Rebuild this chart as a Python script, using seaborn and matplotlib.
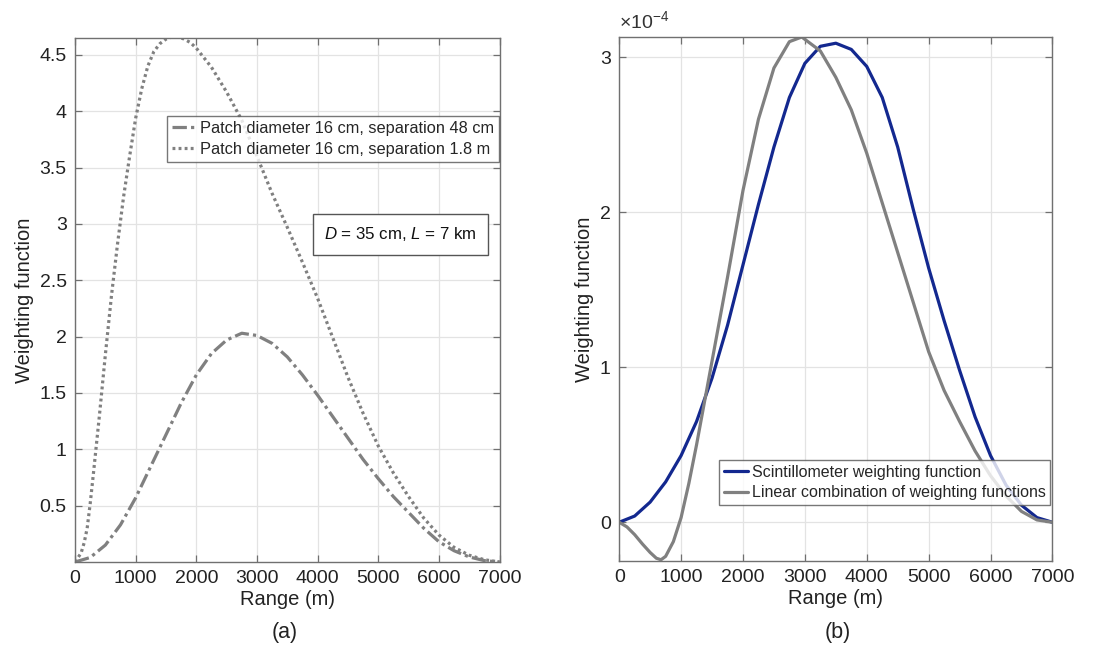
import numpy as np
import pandas as pd
import seaborn as sns
import matplotlib
matplotlib.use("Agg")
import matplotlib.pyplot as plt

# Panel (a): weighting functions of the two patch pairs
range_48cm = [0, 250, 500, 750, 1000, 1250, 1500, 1750, 2000, 2250, 2500, 2750,
              3000, 3250, 3500, 3750, 4000, 4250, 4500, 4750, 5000, 5250, 5500,
              5750, 6000, 6250, 6500, 6750, 7000]
wf_48cm = [0, 0.04, 0.15, 0.33, 0.57, 0.85, 1.13, 1.41, 1.66, 1.85, 1.97, 2.03,
           2.01, 1.94, 1.82, 1.66, 1.48, 1.29, 1.10, 0.91, 0.74, 0.58, 0.44,
           0.30, 0.18, 0.10, 0.045, 0.012, 0]

range_18m = [0, 100, 150, 200, 250, 300, 400, 500, 600, 700, 800, 900, 1000, 1100,
             1200, 1300, 1400, 1500, 1600, 1700, 1800, 1900, 2000, 2250, 2500,
             2750, 3000, 3250, 3500, 3750, 4000, 4250, 4500, 4750, 5000, 5250,
             5500, 5750, 6000, 6250, 6500, 6750, 7000]
wf_18m = [0, 0.08, 0.17, 0.3, 0.52, 0.77, 1.29, 1.84, 2.36, 2.82, 3.24, 3.6, 3.94,
          4.2, 4.4, 4.53, 4.6, 4.64, 4.66, 4.66, 4.64, 4.61, 4.56, 4.39, 4.17,
          3.92, 3.6, 3.27, 2.97, 2.66, 2.34, 1.99, 1.64, 1.32, 1.03, 0.79,
          0.58, 0.39, 0.24, 0.13, 0.06, 0.02, 0]

# Panel (b): values in units of 1e-4
range_scint = [0, 250, 500, 750, 1000, 1250, 1500, 1750, 2000, 2250, 2500, 2750,
               3000, 3250, 3500, 3750, 4000, 4250, 4500, 4750, 5000, 5250, 5500,
               5750, 6000, 6250, 6500, 6750, 7000]
wf_scint = [0, 0.04, 0.13, 0.26, 0.43, 0.65, 0.93, 1.27, 1.66, 2.05, 2.42, 2.74,
            2.96, 3.07, 3.09, 3.05, 2.94, 2.74, 2.42, 2.02, 1.64, 1.30, 0.98,
            0.68, 0.43, 0.24, 0.11, 0.03, 0]

range_comb = [0, 125, 250, 375, 500, 600, 675, 750, 875, 1000, 1125, 1250, 1375,
              1500, 1625, 1750, 1875, 2000, 2250, 2500, 2750, 2950, 3250, 3500,
              3750, 4000, 4250, 4500, 4750, 5000, 5250, 5500, 5750, 6000, 6250,
              6500, 6750, 7000]
wf_comb = [0, -0.03, -0.08, -0.14, -0.195, -0.232, -0.242, -0.22, -0.125, 0.03,
           0.25, 0.5, 0.77, 1.04, 1.31, 1.58, 1.86, 2.14, 2.6, 2.93, 3.1, 3.13,
           3.04, 2.87, 2.66, 2.38, 2.06, 1.74, 1.42, 1.1, 0.85, 0.65, 0.46, 0.3,
           0.17, 0.07, 0.015, 0]

labels_a = ["Patch diameter 16 cm, separation 48 cm",
            "Patch diameter 16 cm, separation 1.8 m"]
labels_b = ["Scintillometer weighting function",
            "Linear combination of weighting functions"]

sns.set_style("whitegrid")
plt.rcParams['font.family'] = ['Liberation Sans', 'DejaVu Sans']
plt.rcParams['mathtext.fontset'] = 'custom'
plt.rcParams['mathtext.it'] = 'Liberation Sans:italic'
plt.rcParams['mathtext.rm'] = 'Liberation Sans'

grey = '#808080'
blue = '#13288f'
frame = '#707070'
lw = 2.3

fig = plt.figure(figsize=(10.94, 6.55), dpi=100)
ax1 = fig.add_axes([0.0686, 0.142, 0.388, 0.80])
ax2 = fig.add_axes([0.566, 0.1435, 0.396, 0.80])


def style_axes(ax):
    ax.grid(True, color='#e3e3e3', linewidth=0.9)
    for sp in ax.spines.values():
        sp.set_color(frame)
        sp.set_linewidth(1.0)
    ax.tick_params(direction='in', length=5, width=0.9, color=frame,
                   labelsize=14, labelcolor='#222222', top=True, right=True,
                   bottom=True, left=True, pad=6)
    ax.set_xlim(0, 7000)
    ax.set_xticks(range(0, 7001, 1000))
    ax.set_xlabel("Range (m)", fontsize=14.5, color='#222222', labelpad=2)
    ax.set_ylabel("Weighting function", fontsize=14.5, color='#222222')


def style_legend(leg):
    leg.get_frame().set_edgecolor('#555555')
    leg.get_frame().set_linewidth(1.0)


# (a)
sns.lineplot(x=range_48cm, y=wf_48cm, ax=ax1, color=grey, linewidth=lw,
             linestyle=(0, (4.5, 1.3, 1, 1.3)), label=labels_a[0])
sns.lineplot(x=range_18m, y=wf_18m, ax=ax1, color=grey, linewidth=lw,
             linestyle=(0, (0.9, 1.0)), label=labels_a[1])
style_axes(ax1)
ax1.set_ylim(0, 4.65)
ax1.set_yticks([0.5, 1, 1.5, 2, 2.5, 3, 3.5, 4, 4.5])
ax1.set_yticklabels(["0.5", "1", "1.5", "2", "2.5", "3", "3.5", "4", "4.5"])
leg1 = ax1.legend(loc='upper right', bbox_to_anchor=(0.998, 0.851), fontsize=11.8,
                  frameon=True, fancybox=False, borderpad=0.3, labelspacing=0.35,
                  handlelength=1.45, handletextpad=0.25, borderaxespad=0)
style_legend(leg1)
ax1.text(0.767, 0.625, r'$\it{D}$ = 35 cm, $\it{L}$ = 7 km', transform=ax1.transAxes,
         ha='center', va='center', fontsize=12.2, color='#111111',
         bbox=dict(boxstyle='square,pad=0.65', fc='white', ec='#555555', lw=1.0))

# (b)
sns.lineplot(x=range_scint, y=wf_scint, ax=ax2, color=blue, linewidth=lw,
             label=labels_b[0])
sns.lineplot(x=range_comb, y=wf_comb, ax=ax2, color=grey, linewidth=lw,
             label=labels_b[1])
style_axes(ax2)
ax2.set_ylim(-0.25, 3.13)
ax2.set_yticks([0, 1, 2, 3])
ax2.text(0.0, 1.01, r'$\times10^{-4}$', transform=ax2.transAxes, ha='left',
         va='bottom', fontsize=14, color='#333333')
leg2 = ax2.legend(loc='lower right', bbox_to_anchor=(0.995, 0.107), fontsize=11.5,
                  frameon=True, fancybox=False, borderpad=0.3, labelspacing=0.35,
                  handlelength=1.5, handletextpad=0.25, borderaxespad=0)
style_legend(leg2)

fig.text(0.2605, 0.035, "(a)", ha='center', va='center', fontsize=15.5, color='#222222')
fig.text(0.766, 0.035, "(b)", ha='center', va='center', fontsize=15.5, color='#222222')

fig.savefig("out.png", dpi=100)
